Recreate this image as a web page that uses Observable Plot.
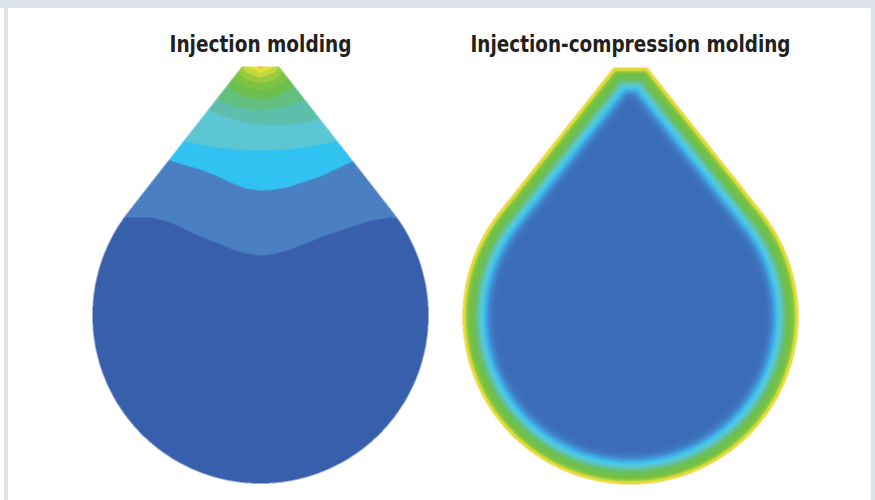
<!DOCTYPE html>
<html><head><meta charset="utf-8">
<script src="https://cdn.jsdelivr.net/npm/d3@7"></script>
<script src="https://cdn.jsdelivr.net/npm/@observablehq/plot@0.6"></script>
<style>
html,body{margin:0;padding:0;background:#fff;}
#wrap{position:relative;width:875px;height:500px;overflow:hidden;background:#fff;}
#wrap svg{position:absolute;top:0;}
.frame{position:absolute;background:#dce3ea;}
</style></head><body>
<div id="wrap"></div>
<script>
// ---- titles ----
const titles = ["Injection molding", "Injection-compression molding"];
const titleWidths = [182, 320];

// ---- left panel: filled contour bands (gate -> far field) ----
const bandColors = ["#f0a93a", "#e5e236", "#c2d940", "#9acb3f", "#7cc344", "#6cbf4f",
                    "#63bf80", "#5dbfab", "#5cc6d3", "#30c3f1", "#4a7fc1", "#385fac"];
const bandXs = [90, 120, 150, 170, 185, 200, 215, 230, 245, 260, 275, 290, 305, 320, 335, 350, 370, 390, 410, 430];
const b0  = [0, 0, 0, 0, 0, 0, 0, 0, 60, 68, 60, 0, 0, 0, 0, 0, 0, 0, 0, 0];
const b1  = [0, 0, 0, 0, 0, 0, 0, 20, 66, 72, 66, 20, 0, 0, 0, 0, 0, 0, 0, 0];
const b2  = [0, 0, 0, 0, 0, 0, 0, 40, 72, 77, 72, 40, 0, 0, 0, 0, 0, 0, 0, 0];
const b3  = [0, 0, 0, 0, 0, 0, 10, 64, 79, 83, 79, 64, 10, 0, 0, 0, 0, 0, 0, 0];
const b4  = [0, 0, 0, 0, 0, 0, 20, 76.5, 87, 90, 87, 76.5, 20, 0, 0, 0, 0, 0, 0, 0];
const b5  = [0, 0, 0, 0, 0, 40, 69, 88.7, 96.6, 99, 96.6, 88.7, 69, 40, 0, 0, 0, 0, 0, 0];
const b6  = [0, 0, 30, 60, 78, 90, 98, 104.5, 108.5, 110, 108.5, 104.5, 98, 90, 78, 60, 30, 0, 0, 0];
const b7  = [40, 50, 60, 78, 95, 105, 113, 118, 122, 124, 125, 124, 122, 118, 113, 105, 95, 78, 60, 40];
const b8  = [100, 113, 125, 134, 141, 144, 146.5, 148.5, 149.5, 150, 149.5, 148.5, 146.5, 144, 141, 134, 125, 113, 100, 100];
const b9  = [125, 140, 152, 160, 165, 169, 175, 182, 188, 190, 189, 186, 181, 176, 169, 162, 155, 148, 138, 125];
const b10 = [215, 217, 217, 222, 229, 236, 242, 248, 253, 255, 253.5, 249, 243, 237, 232, 227, 220, 217, 220, 215];
const bandBoundaries = [b0, b1, b2, b3, b4, b5, b6, b7, b8, b9, b10];

// ---- right panel: colour by distance from the cavity wall ----
const wallDist   = [0, 1.5, 3, 4.5, 7, 12, 15.5, 18.5, 21, 23.5, 27, 31, 36];
const wallColors = ["#f2c83a", "#f0e236", "#c6da40", "#8cc73f", "#74c145", "#6cbf55",
                    "#60c2a6", "#5cc8d6", "#3ec6f1", "#40a8e2", "#4184cb", "#3d72bc", "#3b6cb7"];

// ---- teardrop cavities ----
const drops = [
  {cx: 260, cy: 315, r: 168, top: 66, half: 18.5},
  {cx: 630, cy: 316, r: 168, top: 67, half: 17}
];
const titleBaseline = 51;

function signedDist({cx, cy, r, top, half}) {
  const px = -half, py = top - cy;
  const d = Math.hypot(px, py);
  const phi = Math.atan2(py, px), beta = Math.acos(r / d);
  const A = [phi + beta, phi - beta].map(a => [r * Math.cos(a), r * Math.sin(a)]);
  const T = A[0][0] < A[1][0] ? A[0] : A[1];
  let nx = -(T[1] - py), ny = T[0] - px;
  const nl = Math.hypot(nx, ny); nx /= nl; ny /= nl;
  if ((0 - px) * nx + (0 - py) * ny < 0) { nx = -nx; ny = -ny; }
  const sinT = T[1] / r;
  return (x, y) => {
    const X = x - cx, Y = y - cy;
    const dl = (X - px) * nx + (Y - py) * ny;
    const dr = (-X - px) * nx + (Y - py) * ny;
    const dt = Y - py;
    let s = Math.min(dl, dr, dt);
    const rho = Math.hypot(X, Y);
    if (rho > 0 && Y / rho >= sinT) s = Math.min(s, r - rho);
    return s;
  };
}

function interp(xs, ys, x) {
  if (x <= xs[0]) return ys[0];
  for (let i = 1; i < xs.length; ++i) {
    if (x <= xs[i]) { const t = (x - xs[i - 1]) / (xs[i] - xs[i - 1]); return ys[i - 1] + t * (ys[i] - ys[i - 1]); }
  }
  return ys[ys.length - 1];
}

const sdL = signedDist(drops[0]);
const sdR = signedDist(drops[1]);
const leftField = (x, y) => {
  if (sdL(x, y) < 0) return NaN;
  let k = 0;
  for (const b of bandBoundaries) if (y > interp(bandXs, b, x)) k++;
  return k;
};
const rightField = (x, y) => { const s = sdR(x, y); return s >= 0 ? s : NaN; };

const font = "'Liberation Sans Narrow', 'Arial Narrow', 'DejaVu Sans Condensed', sans-serif";
const wrap = document.getElementById("wrap");

function titleMark(i) {
  return Plot.text([titles[i]], {
    x: drops[i].cx, y: titleBaseline, text: d => d, textAnchor: "middle", lineAnchor: "bottom",
    fontSize: 23, fontWeight: "bold", fontFamily: font, fill: "#231f20"
  });
}

const left = Plot.plot({
  width: 437, height: 500, margin: 0,
  style: {background: "transparent"},
  x: {domain: [0, 437], range: [0, 437], axis: null},
  y: {domain: [0, 500], range: [0, 500], axis: null},
  color: {type: "threshold", domain: bandColors.slice(1).map((_, i) => i + 0.5), range: bandColors},
  marks: [
    Plot.raster({fill: leftField, x1: 80, x2: 440, y1: 55, y2: 495, width: 720, height: 880, imageRendering: "auto"}),
    titleMark(0)
  ]
});
const right = Plot.plot({
  width: 438, height: 500, margin: 0,
  style: {background: "transparent"},
  x: {domain: [437, 875], range: [0, 438], axis: null},
  y: {domain: [0, 500], range: [0, 500], axis: null},
  color: {type: "linear", domain: wallDist, range: wallColors, clamp: true, interpolate: "rgb"},
  marks: [
    Plot.raster({fill: rightField, x1: 450, x2: 810, y1: 55, y2: 495, width: 720, height: 880, imageRendering: "auto"}),
    titleMark(1)
  ]
});
left.style.left = "0px";
right.style.left = "437px";
wrap.appendChild(left);
wrap.appendChild(right);
[left, right].forEach((svg, i) => {
  svg.querySelectorAll("text").forEach(t => {
    t.setAttribute("textLength", titleWidths[i]);
    t.setAttribute("lengthAdjust", "spacingAndGlyphs");
  });
});

// light grey page frame
[[0, 0, 875, 8], [4, 0, 4, 500], [871, 0, 4, 500]].forEach(([l, t, w, h]) => {
  const d = document.createElement("div");
  d.className = "frame";
  Object.assign(d.style, {left: l + "px", top: t + "px", width: w + "px", height: h + "px"});
  wrap.appendChild(d);
});
</script>
</body></html>
